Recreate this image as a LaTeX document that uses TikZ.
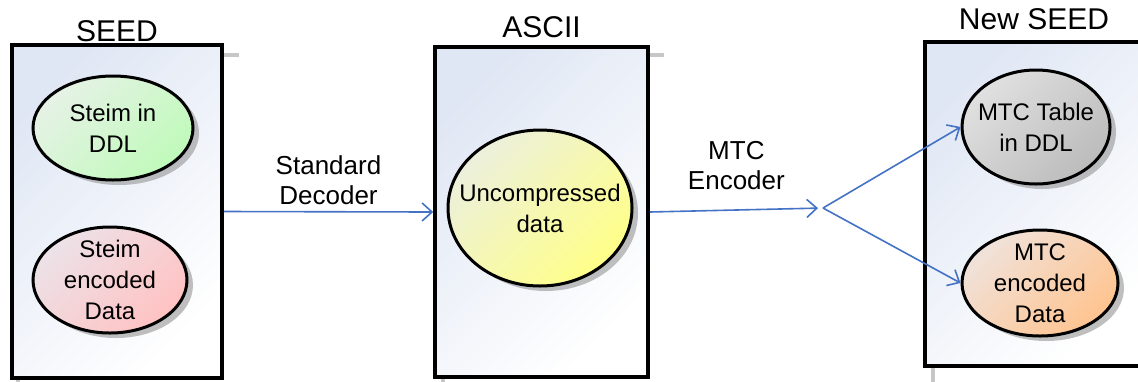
\documentclass[tikz,border=0pt]{standalone}
\usepackage{fontspec}
\setmainfont{Liberation Sans}
\usepackage{tikz}
\usetikzlibrary{shapes.geometric,shadows,arrows.meta}

\definecolor{arrowblue}{RGB}{68,114,196}
\definecolor{boxtint}{RGB}{224,231,244}
\definecolor{greenA}{RGB}{230,242,230}
\definecolor{greenB}{RGB}{192,250,186}
\definecolor{pinkA}{RGB}{236,226,232}
\definecolor{pinkB}{RGB}{255,194,194}
\definecolor{yellowA}{RGB}{236,240,220}
\definecolor{yellowB}{RGB}{255,255,136}
\definecolor{grayA}{RGB}{224,224,224}
\definecolor{grayB}{RGB}{188,188,188}
\definecolor{orangeA}{RGB}{240,226,218}
\definecolor{orangeB}{RGB}{255,196,144}

\begin{document}
\begin{tikzpicture}[x=0.5pt, y=-0.5pt,
Boxnode/.style={rectangle, draw=black, line width=1.75pt, top color=boxtint, bottom color=white, shading angle=45},
BoxShadow/.style={draw=black!22, line width=2pt},
Enode/.style={ellipse, draw=black, line width=1.5pt, inner sep=0pt,
  drop shadow={shadow xshift=3pt, shadow yshift=-2.5pt, fill=black!45, opacity=.55}},
Etext/.style={align=center, inner sep=0pt, font=\fontsize{12}{15.5}\selectfont},
Title/.style={inner sep=0pt, text depth=0pt, font=\fontsize{15}{17}\selectfont},
Alabel/.style={align=center, font=\fontsize{13}{15}\selectfont},
Arr/.style={draw=arrowblue, line width=0.8pt, -{Straight Barb[length=5pt, width=9pt]}}
]
\useasboundingbox (0,0) rectangle (1138,381);
\clip (0,0) rectangle (1138,381);

%Boxes
\node[Boxnode, minimum width=105pt, minimum height=166.5pt,
  label={[Title, label distance=0.6pt]above:SEED}] (B1) at (117,211.5) {};
\node[Boxnode, minimum width=106.5pt, minimum height=165pt,
  label={[Title, label distance=3.9pt]above:ASCII}] (B2) at (541.5,212) {};
\node[Boxnode, minimum width=109pt, minimum height=162pt,
  label={[Title, label distance=5.4pt]above:New SEED}] (B3) at (1034,204) {};

%Box shadows
\draw[BoxShadow] ([yshift=-6pt]B1.north east) -- ++(7.5pt,0);
\draw[BoxShadow] ([xshift=4pt]B1.south west) -- ++(0,-8pt);
\draw[BoxShadow] ([yshift=-5pt]B2.north east) -- ++(7pt,0);
\draw[BoxShadow] ([xshift=5pt]B2.south west) -- ++(0,-8pt);
\draw[BoxShadow] ([xshift=5pt]B3.south west) -- ++(0,-8pt);

%Ellipses
\node[Enode, top color=greenA, bottom color=greenB, shading angle=45,
  minimum width=80pt, minimum height=52pt,
  label={[Etext]center:Steim in\\DDL}] (E1) at (113,128) {};
\node[Enode, top color=pinkA, bottom color=pinkB, shading angle=45,
  minimum width=77pt, minimum height=53pt,
  label={[Etext]center:Steim\\encoded\\Data}] (E2) at (110,280) {};
\node[Enode, top color=yellowA, bottom color=yellowB, shading angle=45,
  minimum width=92pt, minimum height=78pt,
  label={[Etext]center:Uncompressed\\data}] (E3) at (540,208) {};
\node[Enode, top color=grayA, bottom color=grayB, shading angle=45,
  minimum width=74pt, minimum height=57pt,
  label={[Etext]center:MTC Table\\in DDL}] (E4) at (1036,127) {};
\node[Enode, top color=orangeA, bottom color=orangeB, shading angle=45,
  minimum width=78pt, minimum height=53pt,
  label={[Etext]center:MTC\\encoded\\Data}] (E5) at (1040,283) {};

%Lines
\coordinate (F) at (823,208);
\draw[Arr] (B1.east) -- node[Alabel, above] {Standard\\Decoder} (B2.west);
\draw[Arr, shorten >=2.5pt] (B2.east) -- node[Alabel, above=6.5pt] {MTC\\Encoder} (F);
\draw[Arr] (F) -- (E4.west);
\draw[Arr] (F) -- (E5.west);
\end{tikzpicture}
\end{document}
